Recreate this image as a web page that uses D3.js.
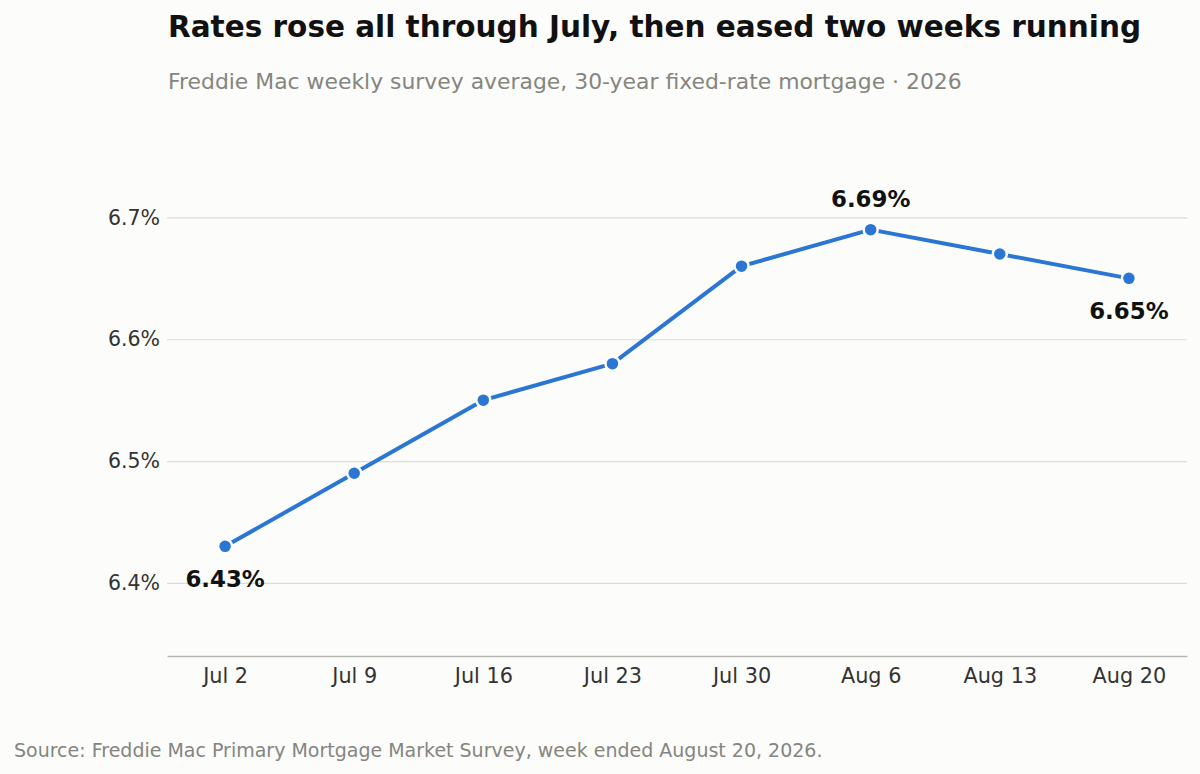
<!DOCTYPE html>
<html><head><meta charset="utf-8">
<script src="https://cdn.jsdelivr.net/npm/d3@7"></script>
<style>
html,body{margin:0;padding:0;background:#fcfcfa;}
svg{display:block;font-family:"DejaVu Sans",sans-serif;}
</style></head>
<body><svg id="c" width="1200" height="774"></svg>
<script>
const weeks = ["Jul 2","Jul 9","Jul 16","Jul 23","Jul 30","Aug 6","Aug 13","Aug 20"];
const rates = [6.43,6.49,6.55,6.58,6.66,6.69,6.67,6.65];
const yTicks = [6.4,6.5,6.6,6.7];
const labelled = [
  {i:0, pos:"below"},
  {i:5, pos:"above"},
  {i:7, pos:"below"}
];
const title = "Rates rose all through July, then eased two weeks running";
const subtitle = "Freddie Mac weekly survey average, 30-year fixed-rate mortgage · 2026";
const source = "Source: Freddie Mac Primary Mortgage Market Survey, week ended August 20, 2026.";

const svg = d3.select("#c");
const m = {left:167, right:1187, top:120, bottom:656};
const x = d3.scalePoint().domain(weeks).range([m.left, m.right]).padding(0.45);
const y = d3.scaleLinear().domain([6.34, 6.78]).range([m.bottom, m.top]);

svg.append("text").attr("x",168).attr("y",37).attr("font-size",29.5).attr("font-weight","bold")
  .attr("fill","#111").text(title);
svg.append("text").attr("x",168).attr("y",89).attr("font-size",21.9).attr("fill","#858580").text(subtitle);
svg.append("text").attr("x",14).attr("y",757).attr("font-size",19).attr("fill","#858580").text(source);

// gridlines + y axis
const ya = svg.append("g").attr("transform",`translate(${m.left},0)`)
  .call(d3.axisLeft(y).tickValues(yTicks).tickSize(-(m.right-m.left)).tickPadding(7).tickFormat(d=>d3.format(".1f")(d)+"%"));
ya.select(".domain").remove();
ya.selectAll(".tick line").attr("stroke","#dcdcd8").attr("stroke-width",1.2);
ya.selectAll(".tick text").attr("font-size",20.5).attr("fill","#333").attr("font-family","DejaVu Sans, sans-serif");

// x axis
const xa = svg.append("g").attr("transform",`translate(0,${m.bottom})`)
  .call(d3.axisBottom(x).tickSize(0).tickPadding(12));
xa.select(".domain").attr("stroke","#b8b8b2").attr("stroke-width",1.5);
xa.selectAll(".tick text").attr("font-size",20.8).attr("fill","#333").attr("font-family","DejaVu Sans, sans-serif");

const data = weeks.map((w,i)=>({w, v:rates[i]}));
svg.append("path").datum(data)
  .attr("d", d3.line().x(d=>x(d.w)).y(d=>y(d.v)))
  .attr("fill","none").attr("stroke","#2a76d2").attr("stroke-width",4).attr("stroke-linejoin","round");

svg.selectAll("circle.pt").data(data).join("circle").attr("class","pt")
  .attr("cx",d=>x(d.w)).attr("cy",d=>y(d.v)).attr("r",7)
  .attr("fill","#2a76d2").attr("stroke","#fcfcfa").attr("stroke-width",2.5);

svg.selectAll("text.lbl").data(labelled).join("text").attr("class","lbl")
  .attr("x",d=>x(weeks[d.i]))
  .attr("y",d=>y(rates[d.i]) + (d.pos==="above" ? -23 : 41))
  .attr("text-anchor","middle").attr("font-size",22.9).attr("font-weight","bold").attr("fill","#111")
  .text(d=>d3.format(".2f")(rates[d.i])+"%");
</script></body></html>
